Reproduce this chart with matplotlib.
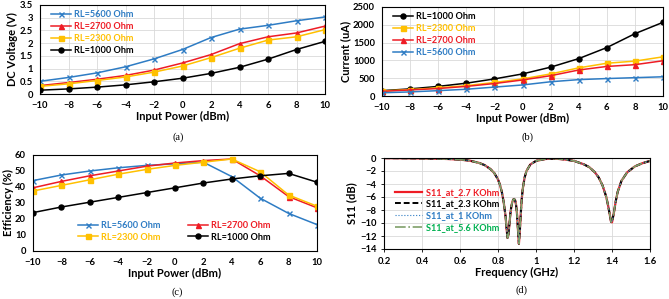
import matplotlib
matplotlib.use("Agg")
import matplotlib.pyplot as plt

plt.rcParams['font.family'] = ['Lato', 'DejaVu Sans']
plt.rcParams['font.weight'] = 'bold'

pin = [-10, -8, -6, -4, -2, 0, 2, 4, 6, 8, 10]

# (a) DC voltage (V)
v_5600 = [0.50, 0.65, 0.83, 1.07, 1.38, 1.75, 2.22, 2.55, 2.70, 2.88, 3.03]
v_2700 = [0.33, 0.45, 0.58, 0.73, 0.94, 1.22, 1.55, 1.98, 2.25, 2.40, 2.67]
v_2300 = [0.30, 0.40, 0.53, 0.67, 0.86, 1.10, 1.43, 1.80, 2.12, 2.25, 2.53]
v_1000 = [0.15, 0.20, 0.27, 0.36, 0.48, 0.62, 0.81, 1.05, 1.37, 1.75, 2.07]

# (b) Current (uA)
i_1000 = [150, 200, 270, 360, 480, 620, 810, 1050, 1360, 1750, 2070]
i_2300 = [140, 180, 230, 290, 380, 480, 620, 790, 920, 980, 1100]
i_2700 = [130, 170, 210, 270, 350, 450, 570, 730, 830, 880, 990]
i_5600 = [90, 115, 150, 190, 250, 310, 400, 460, 490, 515, 540]

# (c) Efficiency (%)
e_5600 = [44, 47.5, 50, 52, 53.5, 54.5, 55.5, 46.5, 33, 23.5, 16.5]
e_2700 = [39.5, 43.5, 47, 50, 53, 55, 56.5, 57.5, 47, 34, 27]
e_2300 = [37.5, 41, 44.5, 48, 51, 53.5, 55.5, 57.5, 49.5, 35, 28]
e_1000 = [24, 27.5, 30.5, 33.5, 36.5, 39.5, 42.5, 45, 47, 48.5, 43]

# (d) S11 (dB)
freq = [0.20, 0.30, 0.40, 0.50, 0.55, 0.60, 0.65, 0.70, 0.73, 0.76, 0.78, 0.80,
        0.81, 0.82, 0.83, 0.84, 0.845, 0.85, 0.855, 0.86, 0.865, 0.87, 0.875,
        0.88, 0.885, 0.89, 0.895, 0.90, 0.905, 0.91, 0.915, 0.92, 0.925, 0.93,
        0.94, 0.95, 0.97, 1.00, 1.05, 1.10, 1.15, 1.20, 1.25, 1.28, 1.31, 1.33,
        1.35, 1.37, 1.38, 1.39, 1.395, 1.40, 1.41, 1.42, 1.43, 1.45, 1.48, 1.52,
        1.56, 1.60]
s11 = [-0.02, -0.04, -0.07, -0.12, -0.17, -0.25, -0.40, -0.75, -1.1, -1.7, -2.3, -3.3,
       -4.1, -5.2, -6.8, -9.0, -10.8, -12.3, -11.8, -10.2, -8.6, -7.5, -6.8,
       -6.4, -6.3, -6.5, -7.2, -8.6, -11.0, -13.2, -11.2, -8.5, -6.3, -4.8,
       -3.0, -2.0, -1.0, -0.45, -0.15, -0.10, -0.22, -0.45, -0.95, -1.4, -2.2, -3.0,
       -4.2, -6.0, -7.4, -9.0, -9.8, -9.9, -8.4, -6.6, -5.2, -3.5, -2.2, -1.3,
       -0.8, -0.45]

C_BLUE = '#2E7CC4'
C_RED = '#EE1C25'
C_YEL = '#FFC000'
C_BLK = '#000000'

W, H = 669, 299
fig = plt.figure(figsize=(W / 100, H / 100), dpi=100)

TICK = 6.8
LAB = 8.0
LEG = 6.6


def px_axes(l, r, t, b):
    return fig.add_axes([l / W, (H - b) / H, (r - l) / W, (b - t) / H])


def style(ax):
    ax.grid(True, color='#D9D9D9', lw=0.6)
    ax.set_axisbelow(True)
    ax.tick_params(length=0, labelsize=TICK)
    ax.tick_params(axis='x', pad=4.8)
    ax.tick_params(axis='y', pad=5.0)
    for s in ax.spines.values():
        s.set_linewidth(0.8)
    for lab in ax.get_xticklabels() + ax.get_yticklabels():
        lab.set_fontweight('bold')


lw = 1.1
ms = 3.6

# ---------- (a)
ax = px_axes(40, 325, 5, 94)
ax.plot(pin, v_5600, color=C_BLUE, marker='x', ms=ms, mew=1, lw=lw, label='RL=5600 Ohm')
ax.plot(pin, v_2700, color=C_RED, marker='^', ms=ms, lw=lw, label='RL=2700 Ohm')
ax.plot(pin, v_2300, color=C_YEL, marker='s', ms=ms, lw=lw, label='RL=2300 Ohm')
ax.plot(pin, v_1000, color=C_BLK, marker='o', ms=ms, lw=lw, label='RL=1000 Ohm')
ax.set_xlim(-10, 10)
ax.set_ylim(0, 3.5)
ax.set_xticks(pin)
ax.set_yticks([0, 0.5, 1, 1.5, 2, 2.5, 3, 3.5])
ax.set_yticklabels(['0', '0.5', '1', '1.5', '2', '2.5', '3', '3.5'])
style(ax)
ax.set_xlabel('Input Power (dBm)', fontsize=LAB, fontweight='bold', labelpad=1)
ax.set_ylabel('DC Voltage (V)', fontsize=LAB, fontweight='bold', labelpad=1)
ax.legend(loc='upper left', bbox_to_anchor=(0.02, 1.0), frameon=False,
          labelcolor='linecolor', handlelength=2.2, handletextpad=0.3,
          labelspacing=0.3, borderaxespad=0.2, prop={'weight': 'bold', 'size': LEG})
fig.text(178 / W, 1 - 137 / H, '(a)', fontsize=7.5, family='Liberation Serif',
         fontweight='normal', ha='center', va='center')

# ---------- (b)
ax = px_axes(382, 663, 7, 96)
ax.plot(pin, i_1000, color=C_BLK, marker='o', ms=ms, lw=lw, label='RL=1000 Ohm')
ax.plot(pin, i_2300, color=C_YEL, marker='s', ms=ms, lw=lw, label='RL=2300 Ohm')
ax.plot(pin, i_2700, color=C_RED, marker='^', ms=ms, lw=lw, label='RL=2700 Ohm')
ax.plot(pin, i_5600, color=C_BLUE, marker='x', ms=ms, mew=1, lw=lw, label='RL=5600 Ohm')
ax.set_xlim(-10, 10)
ax.set_ylim(0, 2500)
ax.set_xticks(pin)
ax.set_yticks([0, 500, 1000, 1500, 2000, 2500])
style(ax)
ax.set_xlabel('Input Power (dBm)', fontsize=LAB, fontweight='bold', labelpad=1)
ax.set_ylabel('Current (uA)', fontsize=LAB, fontweight='bold', labelpad=1)
ax.legend(loc='upper left', bbox_to_anchor=(0.02, 1.0), frameon=False,
          labelcolor='linecolor', handlelength=2.2, handletextpad=0.3,
          labelspacing=0.3, borderaxespad=0.2, prop={'weight': 'bold', 'size': LEG})
fig.text(528 / W, 1 - 137 / H, '(b)', fontsize=7.5, family='Liberation Serif',
         fontweight='normal', ha='center', va='center')

# ---------- (c)
ax = px_axes(33, 317, 155, 251)
l1, = ax.plot(pin, e_5600, color=C_BLUE, marker='x', ms=ms, mew=1, lw=lw, label='RL=5600 Ohm')
l2, = ax.plot(pin, e_2700, color=C_RED, marker='^', ms=ms, lw=lw, label='RL=2700 Ohm')
l3, = ax.plot(pin, e_2300, color=C_YEL, marker='s', ms=ms, lw=lw, label='RL=2300 Ohm')
l4, = ax.plot(pin, e_1000, color=C_BLK, marker='o', ms=ms, lw=lw, label='RL=1000 Ohm')
ax.set_xlim(-10, 10)
ax.set_ylim(0, 60)
ax.set_xticks(pin)
ax.set_yticks([0, 10, 20, 30, 40, 50, 60])
style(ax)
ax.grid(False)
ax.set_xlabel('Input Power (dBm)', fontsize=LAB, fontweight='bold', labelpad=1)
ax.set_ylabel('Efficiency (%)', fontsize=LAB, fontweight='bold', labelpad=1)
ax.legend(handles=[l1, l3, l2, l4], ncol=2, loc='lower left', bbox_to_anchor=(0.145, 0.06),
          frameon=False, labelcolor='linecolor', handlelength=2.2, handletextpad=0.3,
          labelspacing=0.25, columnspacing=3.0, borderaxespad=0.0,
          prop={'weight': 'bold', 'size': LEG})
fig.text(177 / W, 1 - 292 / H, '(c)', fontsize=7.5, family='Liberation Serif',
         fontweight='normal', ha='center', va='center')

# ---------- (d)
ax = px_axes(384, 650, 158, 249)
ax.plot(freq, s11, color=C_RED, lw=1.6, ls='-', label='S11_at_2.7 KOhm')
ax.plot(freq, s11, color=C_BLK, lw=1.4, ls=(0, (3, 1.5)), label='S11_at_2.3 KOhm')
ax.plot(freq, s11, color=C_BLUE, lw=0.8, ls=':', label='S11_at_1 KOhm')
ax.plot(freq, s11, color='#7F9F6A', lw=1.2, ls='-.', label='S11_at_5.6 KOhm')
ax.set_xlim(0.2, 1.6)
ax.set_ylim(-14, 0)
ax.set_xticks([0.2, 0.4, 0.6, 0.8, 1.0, 1.2, 1.4, 1.6])
ax.set_xticklabels(['0.2', '0.4', '0.6', '0.8', '1', '1.2', '1.4', '1.6'])
ax.set_yticks([0, -2, -4, -6, -8, -10, -12, -14])
style(ax)
ax.tick_params(axis='both', length=2, direction='out', width=0.6)
ax.tick_params(axis='x', pad=3.5)
ax.tick_params(axis='y', pad=3.5)
ax.set_xlabel('Frequency (GHz)', fontsize=LAB, fontweight='bold', labelpad=1)
ax.set_ylabel('S11 (dB)', fontsize=LAB, fontweight='bold', labelpad=2)
leg = ax.legend(loc='center left', bbox_to_anchor=(0.01, 0.43), frameon=False,
                handlelength=3.0, handletextpad=0.4, labelspacing=0.3,
                prop={'weight': 'bold', 'size': LEG})
for t, c in zip(leg.get_texts(), [C_RED, C_BLK, C_BLUE, '#00B050']):
    t.set_color(c)
fig.text(522 / W, 1 - 290 / H, '(d)', fontsize=7.5, family='Liberation Serif',
         fontweight='normal', ha='center', va='center')

fig.savefig('out.png', dpi=100)
